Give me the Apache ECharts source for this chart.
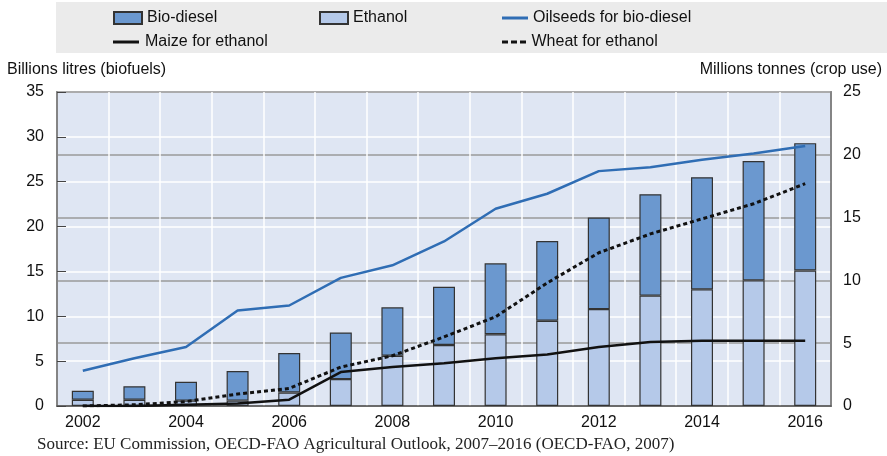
<!DOCTYPE html>
<html><head><meta charset="utf-8">
<script src="https://cdn.jsdelivr.net/npm/echarts@6/dist/echarts.min.js"></script>
<style>html,body{margin:0;padding:0;background:#fff}#c{width:887px;height:456px}</style>
</head><body><div id="c"></div>
<script>
var years = ['2002','2003','2004','2005','2006','2007','2008','2009','2010','2011','2012','2013','2014','2015','2016'];
var ethanol = [0.7,0.7,0.6,0.6,1.5,3.0,5.6,6.8,8.0,9.5,10.8,12.3,13.0,14.0,15.1];
var biodiesel = [1.0,1.5,2.1,3.3,4.4,5.2,5.4,6.5,7.9,8.9,10.2,11.3,12.5,13.3,14.2];
var oilseeds = [2.8,3.8,4.7,7.6,8.0,10.2,11.2,13.1,15.7,16.9,18.7,19.0,19.6,20.1,20.7];
var maize = [0.0,0.0,0.1,0.2,0.5,2.7,3.1,3.4,3.8,4.1,4.7,5.1,5.2,5.2,5.2];
var wheat = [0.0,0.1,0.35,0.95,1.4,3.1,4.0,5.5,7.1,9.8,12.2,13.7,14.9,16.1,17.7];

var font = 'Liberation Sans, Arial, sans-serif';
var chart = echarts.init(document.getElementById('c'));
function lg(item, left, top, w, h){
  return {data:[item], left:left, top:top, itemWidth:w, itemHeight:h, padding:0, selectedMode:false,
    textStyle:{fontFamily:font, fontSize:16, color:'#111'}};
}
var lineIcon = 'path://M0,0h26v3h-26z';
var dotIcon = 'path://M0,0h6v3h-6zM9,0h6v3h-6zM18,0h6v3h-6z';
chart.setOption({
  animation:false,
  graphic:[
    {type:'rect', shape:{x:56,y:2,width:831,height:51}, style:{fill:'#ebebeb'}, z:-10},
    {type:'text', left:7, top:62, style:{text:'Billions litres (biofuels)', font:'16px Liberation Sans', fill:'#111'}},
    {type:'text', right:5, top:62, style:{text:'Millions tonnes (crop use)', font:'16px Liberation Sans', fill:'#111', textAlign:'right'}},
    {type:'text', left:37, top:436, style:{text:'Source: EU Commission, OECD-FAO Agricultural Outlook, 2007\u20132016 (OECD-FAO, 2007)', font:'17px Liberation Serif', fill:'#222'}}
  ],
  legend:[
    lg({name:'Bio-diesel', icon:'rect'},113,10,28,12),
    lg({name:'Ethanol', icon:'rect'},319,10,28,12),
    lg({name:'Oilseeds for bio-diesel', icon:lineIcon, itemStyle:{color:'#2f6db4', borderWidth:0}},502,10,26,3),
    lg({name:'Maize for ethanol', icon:lineIcon, itemStyle:{color:'#111', borderWidth:0}},113,34,28,3),
    lg({name:'Wheat for ethanol', icon:dotIcon, itemStyle:{color:'#111', borderWidth:0}},502,34,25,3)
  ],
  grid:{left:57, top:92, width:774, height:314, show:true, backgroundColor:'#dfe6f3', borderColor:'#666', borderWidth:1.5},
  xAxis:{
    type:'category', data:years, boundaryGap:true,
    axisLine:{lineStyle:{color:'#555', width:1.5}},
    axisTick:{inside:true, length:9, interval:0, lineStyle:{color:'#444', width:1.2}},
    axisLabel:{interval:1, fontFamily:font, fontSize:16, color:'#111', margin:9},
    splitLine:{show:true, interval:0, lineStyle:{color:'#ffffff', width:1.5}}
  },
  yAxis:[
    {type:'value', min:0, max:35, interval:5,
     axisLine:{show:true, lineStyle:{color:'#666', width:1.5}},
     axisTick:{show:true, inside:true, length:9, lineStyle:{color:'#444'}},
     axisLabel:{fontFamily:font, fontSize:16, color:'#111', margin:13},
     splitLine:{show:true, lineStyle:{color:'#ffffff', width:1.5}}},
    {type:'value', min:0, max:25, interval:5, position:'right',
     axisLine:{show:true, lineStyle:{color:'#666', width:1.5}},
     axisTick:{show:false},
     axisLabel:{fontFamily:font, fontSize:16, color:'#111', margin:12},
     splitLine:{show:true, lineStyle:{color:'#9a9a9a', width:1.5}}}
  ],
  series:[
    {name:'Ethanol', type:'bar', stack:'b', data:ethanol, barWidth:22, yAxisIndex:0,
     itemStyle:{color:'#b5c9e9', borderColor:'#333', borderWidth:1.2}},
    {name:'Bio-diesel', type:'bar', stack:'b', data:biodiesel, barWidth:22, yAxisIndex:0,
     itemStyle:{color:'#6b98cf', borderColor:'#333', borderWidth:1.2}},
    {name:'Oilseeds for bio-diesel', type:'line', yAxisIndex:1, data:oilseeds, symbol:'none',
     lineStyle:{color:'#2f6db4', width:2.5}, itemStyle:{color:'#2f6db4'}},
    {name:'Maize for ethanol', type:'line', yAxisIndex:1, data:maize, symbol:'none',
     lineStyle:{color:'#111', width:2.5}, itemStyle:{color:'#111'}},
    {name:'Wheat for ethanol', type:'line', yAxisIndex:1, data:wheat, symbol:'none',
     lineStyle:{color:'#111', width:3, type:[4,3]}, itemStyle:{color:'#111'}}
  ]
});
</script></body></html>
